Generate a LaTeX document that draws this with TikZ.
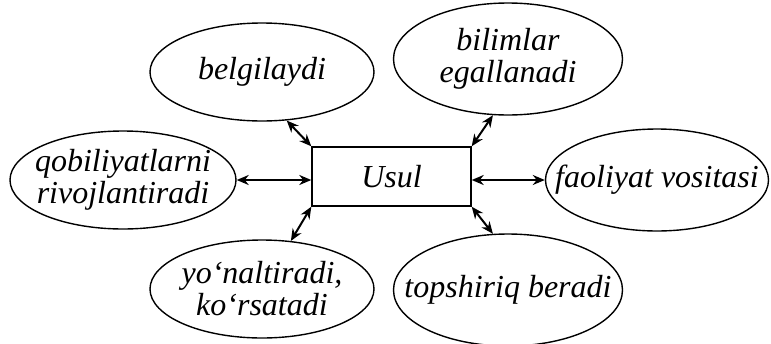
\documentclass[tikz,border=0pt]{standalone}
\usepackage{fontspec}
\setmainfont{Liberation Serif}
\usetikzlibrary{arrows.meta}
\usetikzlibrary{shapes.geometric}

\begin{document}
\begin{tikzpicture} [x=0.5pt, y=-0.5pt,
  oval/.style={ellipse, draw, line width=0.7pt, inner xsep=-20pt, inner ysep=-8pt, align=center,
    font=\fontsize{16}{16}\selectfont\itshape},
  usulbox/.style={draw, line width=0.7pt, minimum width=79.5pt, minimum height=29.5pt,
    font=\fontsize{16}{16}\selectfont\itshape},
  arr/.style={{Stealth[length=6pt,width=5pt]}-{Stealth[length=6pt,width=5pt]}, line width=1pt}]
\useasboundingbox (0,0) rectangle (771,343);

\node[usulbox] (usul) at (391.5,176.5) {Usul};

\node[oval, minimum width=112pt, minimum height=49pt] (belg) at (262,72) {belgilaydi};
\node[oval, minimum width=114.5pt, minimum height=56pt] (bil) at (508,59) {bilimlar\\egallanadi};
\node[oval, minimum width=113pt, minimum height=49pt] (qob) at (123,180) {qobiliyatlarni\\rivojlantiradi};
\node[oval, minimum width=111.5pt, minimum height=51pt] (fao) at (657,180) {faoliyat vositasi};
\node[oval, minimum width=112pt, minimum height=49pt] (yon) at (262,289) {yo‘naltiradi,\\ko‘rsatadi};
\node[oval, minimum width=114.5pt, minimum height=56pt] (top) at (508,290) {topshiriq beradi};

\draw[arr] (belg.-63) -- (usul.north west);
\draw[arr] (bil.-105) -- (usul.north east);
\draw[arr] (qob.east) -- (qob.east -| usul.west);
\draw[arr] (fao.west -| usul.east) -- (fao.west);
\draw[arr] (yon.59) -- (usul.south west);
\draw[arr] (top.105) -- (usul.south east);

\end{tikzpicture}
\end{document}
